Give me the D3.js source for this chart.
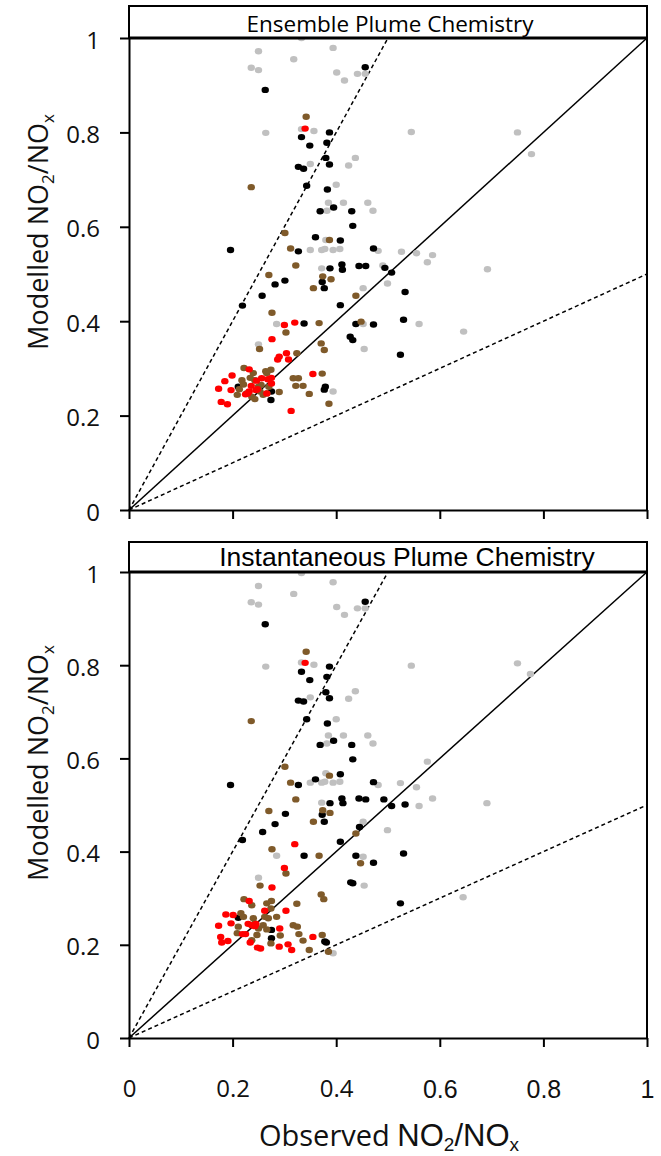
<!DOCTYPE html>
<html lang="en">
<head>
<meta charset="UTF-8">
<title>Modelled vs observed NO2/NOx</title>
<style>
  html, body { margin: 0; padding: 0; background: #fff; }
  svg { display: block; }
</style>
</head>
<body>
<svg id="chart" width="661" height="1156"></svg>
<script src="https://d3js.org/d3.v7.min.js"></script>
<script>
// ---- data: [observed, modelled] NO2/NOx ----
const ensGrey = [
  [0.333,1.000],[0.394,0.979],[0.250,0.972],[0.318,0.955],[0.236,0.937],[0.250,0.932],[0.401,0.927],[0.416,0.910],[0.441,0.924],[0.456,0.924],
  [0.264,0.799],[0.333,0.807],[0.357,0.803],[0.545,0.801],[0.750,0.800],[0.777,0.754],[0.350,0.733],[0.424,0.730],[0.437,0.746],[0.400,0.689],
  [0.385,0.651],[0.414,0.651],[0.461,0.651],[0.471,0.634],[0.382,0.634],[0.380,0.572],[0.350,0.551],[0.372,0.551],[0.378,0.553],[0.394,0.551],
  [0.407,0.553],[0.481,0.549],[0.526,0.547],[0.555,0.544],[0.586,0.540],[0.576,0.525],[0.692,0.510],[0.490,0.518],[0.372,0.512],[0.499,0.480],
  [0.452,0.470],[0.452,0.394],[0.560,0.394],[0.646,0.378],[0.454,0.341],[0.394,0.251],[0.285,0.394],[0.250,0.351]
]
const ensBlack = [
  [0.456,0.938],[0.263,0.890],[0.333,0.790],[0.387,0.800],[0.349,0.772],[0.382,0.778],[0.380,0.746],[0.387,0.732],[0.327,0.727],[0.337,0.723],
  [0.343,0.687],[0.383,0.679],[0.369,0.633],[0.395,0.641],[0.430,0.633],[0.432,0.602],[0.360,0.578],[0.408,0.571],[0.196,0.551],[0.327,0.548],
  [0.472,0.554],[0.388,0.512],[0.411,0.520],[0.412,0.509],[0.444,0.517],[0.457,0.517],[0.494,0.513],[0.507,0.503],[0.373,0.483],[0.377,0.470],
  [0.533,0.462],[0.282,0.478],[0.301,0.486],[0.257,0.454],[0.219,0.433],[0.408,0.434],[0.338,0.395],[0.438,0.394],[0.472,0.393],[0.530,0.403],
  [0.427,0.367],[0.432,0.360],[0.524,0.329],[0.379,0.261],[0.377,0.255],[0.211,0.261],[0.275,0.251],[0.274,0.233]
]
const ensBrown = [
  [0.342,0.833],[0.236,0.684],[0.301,0.587],[0.387,0.572],[0.312,0.554],[0.322,0.518],[0.270,0.498],[0.374,0.495],[0.390,0.489],[0.356,0.470],
  [0.438,0.454],[0.276,0.418],[0.303,0.376],[0.367,0.396],[0.448,0.399],[0.252,0.341],[0.324,0.332],[0.371,0.353],[0.377,0.339],[0.373,0.289],
  [0.348,0.246],[0.386,0.225],[0.317,0.279],[0.327,0.279],[0.322,0.263],[0.336,0.263],[0.290,0.250],[0.222,0.301],[0.240,0.290],[0.264,0.294],
  [0.274,0.297],[0.218,0.275],[0.221,0.266],[0.213,0.256],[0.209,0.244],[0.227,0.247],[0.237,0.240],[0.243,0.235],[0.253,0.251],[0.259,0.244],
  [0.266,0.247],[0.243,0.275],[0.250,0.261],[0.270,0.261],[0.266,0.290],[0.234,0.280],[0.255,0.265]
]
const ensRed = [
  [0.340,0.808],[0.355,0.288],[0.320,0.397],[0.300,0.392],[0.276,0.362],[0.290,0.325],[0.287,0.319],[0.304,0.332],[0.308,0.319],[0.232,0.298],
  [0.199,0.285],[0.185,0.273],[0.173,0.257],[0.197,0.254],[0.178,0.229],[0.190,0.224],[0.313,0.210],[0.236,0.263],[0.229,0.247],[0.225,0.245],
  [0.232,0.251],[0.245,0.254],[0.248,0.256],[0.266,0.247],[0.256,0.279],[0.268,0.277],[0.275,0.280],[0.275,0.268],[0.246,0.274]
]

const instGrey = [
  [0.333,0.998],[0.394,0.978],[0.250,0.970],[0.318,0.953],[0.236,0.935],[0.250,0.930],[0.401,0.925],[0.416,0.908],[0.441,0.922],[0.456,0.922],
  [0.264,0.797],[0.333,0.806],[0.357,0.801],[0.545,0.799],[0.750,0.804],[0.775,0.781],[0.350,0.731],[0.424,0.728],[0.437,0.744],[0.400,0.684],
  [0.385,0.649],[0.414,0.649],[0.461,0.649],[0.471,0.632],[0.382,0.632],[0.380,0.568],[0.350,0.548],[0.372,0.548],[0.378,0.550],[0.394,0.548],
  [0.407,0.550],[0.481,0.543],[0.524,0.547],[0.555,0.538],[0.576,0.593],[0.586,0.514],[0.560,0.498],[0.691,0.504],[0.372,0.505],[0.499,0.446],
  [0.452,0.464],[0.452,0.389],[0.454,0.327],[0.645,0.302],[0.394,0.182],[0.285,0.391],[0.250,0.344]
]
const instBlack = [
  [0.456,0.936],[0.263,0.888],[0.333,0.786],[0.387,0.797],[0.349,0.768],[0.382,0.775],[0.380,0.742],[0.387,0.729],[0.327,0.724],[0.337,0.722],
  [0.343,0.684],[0.383,0.675],[0.369,0.629],[0.395,0.638],[0.430,0.629],[0.432,0.598],[0.360,0.555],[0.408,0.566],[0.196,0.543],[0.327,0.543],
  [0.472,0.549],[0.388,0.504],[0.411,0.514],[0.413,0.504],[0.444,0.514],[0.457,0.512],[0.492,0.512],[0.507,0.498],[0.373,0.479],[0.377,0.464],
  [0.533,0.501],[0.282,0.459],[0.302,0.481],[0.258,0.442],[0.219,0.425],[0.408,0.421],[0.338,0.391],[0.438,0.391],[0.472,0.376],[0.530,0.396],
  [0.428,0.334],[0.432,0.332],[0.524,0.289],[0.378,0.207],[0.381,0.205],[0.211,0.258],[0.275,0.232],[0.275,0.214],[0.445,0.453]
]
const instBrown = [
  [0.342,0.829],[0.236,0.680],[0.301,0.582],[0.387,0.563],[0.312,0.548],[0.322,0.512],[0.270,0.487],[0.374,0.489],[0.388,0.483],[0.356,0.464],
  [0.438,0.439],[0.276,0.405],[0.303,0.353],[0.367,0.391],[0.447,0.375],[0.253,0.327],[0.324,0.288],[0.371,0.308],[0.376,0.298],[0.373,0.221],
  [0.348,0.189],[0.385,0.185],[0.317,0.242],[0.325,0.239],[0.328,0.223],[0.336,0.209],[0.292,0.220],[0.274,0.203],[0.222,0.298],[0.237,0.285],
  [0.266,0.289],[0.275,0.294],[0.216,0.268],[0.221,0.260],[0.211,0.239],[0.209,0.225],[0.240,0.257],[0.243,0.246],[0.250,0.235],[0.247,0.221],
  [0.262,0.260],[0.269,0.257],[0.259,0.242],[0.266,0.233],[0.274,0.278],[0.237,0.210],[0.285,0.260]
]
const instRed = [
  [0.340,0.805],[0.355,0.217],[0.320,0.416],[0.300,0.365],[0.276,0.323],[0.303,0.273],[0.232,0.294],[0.262,0.273],[0.187,0.265],[0.201,0.264],
  [0.173,0.241],[0.197,0.246],[0.177,0.217],[0.179,0.205],[0.191,0.208],[0.225,0.223],[0.234,0.205],[0.237,0.242],[0.243,0.240],[0.230,0.245],
  [0.245,0.245],[0.248,0.194],[0.254,0.192],[0.290,0.196],[0.291,0.235],[0.307,0.201],[0.314,0.189],[0.219,0.223]
]

const tickValues = [0, 0.2, 0.4, 0.6, 0.8, 1]
const tickFormat = d => (d === 0 || d === 1) ? String(d) : d.toFixed(1)
// reference lines: y = k * x through the origin
const refLines = [
  {slope: 1, dash: null},
  {slope: 2, dash: '4,3'},
  {slope: 0.5, dash: '4,3'}
]
const colors = {grey: '#c0c0c0', black: '#000000', brown: '#7f5a2a', red: '#ff0000'}

const calibriLike = "'Open Sans', sans-serif"
const arialLike = "'Liberation Sans', Arial, sans-serif"

const panels = [
  {
    title: 'Ensemble Plume Chemistry', titleFont: calibriLike, titleSize: 22.5, titleX: 390,
    boxTop: 6, yRange: [510, 38], xLabels: false,
    series: [[ensGrey, 'grey'], [ensBlack, 'black'], [ensBrown, 'brown'], [ensRed, 'red']]
  },
  {
    title: 'Instantaneous Plume Chemistry', titleFont: arialLike, titleSize: 26.5, titleX: 407,
    boxTop: 542, yRange: [1038, 572], xLabels: true,
    series: [[instGrey, 'grey'], [instBlack, 'black'], [instBrown, 'brown'], [instRed, 'red']]
  }
]

const svg = d3.select('#chart')
const x = d3.scaleLinear().domain([0, 1]).range([129, 647])

panels.forEach(p => {
  const y = d3.scaleLinear().domain([0, 1]).range(p.yRange)
  const g = svg.append('g')
  const plotTop = y(1), plotBottom = y(0)

  // 1:1, 2:1 and 1:2 lines, cut at the frame
  refLines.forEach(l => {
    const xEnd = Math.min(1, 1 / l.slope)
    g.append('line')
      .attr('x1', x(0)).attr('y1', y(0))
      .attr('x2', x(xEnd)).attr('y2', y(xEnd * l.slope))
      .attr('stroke', '#000')
      .attr('stroke-width', 1.5)
      .attr('stroke-dasharray', l.dash)
  })

  // points
  p.series.forEach(([pts, c]) => {
    g.append('g').selectAll('ellipse')
      .data(pts)
      .enter()
      .append('ellipse')
      .attr('cx', d => x(d[0]))
      .attr('cy', d => y(d[1]))
      .attr('rx', 3.7)
      .attr('ry', 3.2)
      .attr('fill', colors[c])
  })

  // title box
  g.append('rect')
    .attr('x', x(0)).attr('y', p.boxTop)
    .attr('width', x(1) - x(0)).attr('height', plotTop - p.boxTop)
    .attr('fill', '#fff')
    .attr('stroke', '#000')
    .attr('stroke-width', 2)
  g.append('line')
    .attr('x1', x(0)).attr('x2', x(1))
    .attr('y1', plotTop).attr('y2', plotTop)
    .attr('stroke', '#000').attr('stroke-width', 3)
  g.append('text')
    .attr('x', p.titleX).attr('y', plotTop - 6)
    .attr('text-anchor', 'middle')
    .style('font-family', p.titleFont)
    .style('font-size', p.titleSize + 'px')
    .text(p.title)

  // right border
  g.append('line')
    .attr('x1', x(1)).attr('x2', x(1))
    .attr('y1', plotTop).attr('y2', plotBottom)
    .attr('stroke', '#000').attr('stroke-width', 2)

  // axes
  const leftAxis = d3.axisLeft(y).tickValues(tickValues).tickFormat(tickFormat)
    .tickSize(9).tickSizeOuter(0).tickPadding(20)
  const yAx = g.append('g')
    .attr('transform', `translate(${x(0)},0)`)
    .call(leftAxis)
  yAx.selectAll('path, line').attr('stroke-width', 2)
  yAx.selectAll('text')
    .style('font-family', calibriLike)
    .style('font-size', '24px')
    .attr('fill', '#111')
    .attr('dy', '0.42em')

  const bottomAxis = d3.axisBottom(x).tickValues(tickValues).tickFormat(tickFormat)
    .tickSize(9).tickSizeOuter(0).tickPadding(33)
  const xAx = g.append('g')
    .attr('transform', `translate(0,${plotBottom})`)
    .call(bottomAxis)
  xAx.selectAll('path, line').attr('stroke-width', 2)
  if (p.xLabels) {
    xAx.selectAll('text')
      .style('font-family', d => d < 0.5 ? calibriLike : arialLike)
      .style('font-size', d => d < 0.5 ? '24px' : '25px')
      .attr('fill', '#111')
  } else {
    xAx.selectAll('text').remove()
  }

  // y axis title
  const yt = g.append('text')
    .attr('transform', `translate(48,${(plotTop + plotBottom) / 2 - 42}) rotate(-90)`)
    .attr('text-anchor', 'middle')
    .style('font-family', calibriLike)
    .style('font-size', '27px')
    .attr('fill', '#111')
  yt.append('tspan').text('Modelled NO')
  yt.append('tspan').attr('dy', 6).style('font-size', '17px').text('2')
  yt.append('tspan').attr('dy', -6).text('/NO')
  yt.append('tspan').attr('dy', 6).style('font-size', '17px').text('x')
})

// x axis title (mixed faces as in the source figure)
const xt = svg.append('text')
  .attr('x', 389).attr('y', 1146)
  .attr('text-anchor', 'middle')
  .attr('fill', '#111')
xt.append('tspan').style('font-family', calibriLike).style('font-size', '29px').text('Observed ')
xt.append('tspan').style('font-family', arialLike).style('font-size', '31px').text('NO')
xt.append('tspan').style('font-family', arialLike).style('font-size', '19px').attr('dy', 5).text('2')
xt.append('tspan').style('font-family', arialLike).style('font-size', '31px').attr('dy', -5).text('/NO')
xt.append('tspan').style('font-family', arialLike).style('font-size', '19px').attr('dy', 5).text('x')
</script>
</body>
</html>
